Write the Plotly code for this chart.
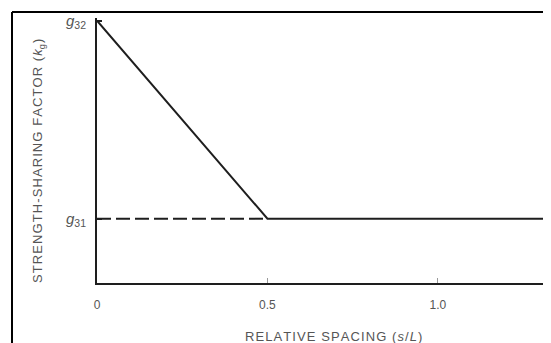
import plotly.graph_objects as go

# Data (normalised: g32 = 1.0, g31)
g32 = 1.0
g31 = 0.245
solid_x = [0.0, 0.5, 1.32]
solid_y = [g32, g31, g31]
dash_x = [0.0, 0.5]
dash_y = [g31, g31]
x_tick_vals = [0, 0.5, 1.0]
x_tick_text = ["0", "0.5", "1.0"]
y_tick_vals = [g31, g32]
y_tick_text = ["<i>g</i><sub>31</sub>", "<i>g</i><sub>32</sub>"]
x_title = ["R", "E", "L", "A", "T", "I", "V", "E", " ", "S", "P", "A", "C", "I", "N", "G", " ",
           "(", "<i>s</i>", "/", "<i>L</i>", ")"]
y_title = ["S", "T", "R", "E", "N", "G", "T", "H", "-", "S", "H", "A", "R", "I", "N", "G", " ",
           "F", "A", "C", "T", "O", "R", " ", "(", "<i>k</i><sub>g</sub>", ")"]

SP = "\u200a"
FONT = "Liberation Sans, Arial, sans-serif"
GREY = "#555555"
DARK = "#1e1e1e"

fig = go.Figure()
fig.add_trace(go.Scatter(x=dash_x, y=dash_y, mode="lines",
                         line=dict(color=DARK, width=2, dash="14px,5px"),
                         hoverinfo="skip", showlegend=False))
fig.add_trace(go.Scatter(x=solid_x, y=solid_y, mode="lines",
                         line=dict(color=DARK, width=2),
                         hoverinfo="skip", showlegend=False))

# page body has an 8px default margin: figure is shrunk by 8px to fit the window
fig.update_layout(
    width=543, height=335,
    margin=dict(l=89, r=4, t=8, b=60),
    paper_bgcolor="white", plot_bgcolor="white",
    font=dict(family=FONT, color=GREY, size=12),
    showlegend=False,
    xaxis=dict(range=[0, 1.32], tickvals=x_tick_vals, ticktext=x_tick_text,
               showgrid=False, zeroline=False, showline=True, linecolor=DARK,
               linewidth=2, ticks="inside", ticklen=5, tickcolor="#999999",
               tickwidth=1, ticklabelstandoff=10,
               tickfont=dict(size=12, color=GREY)),
    yaxis=dict(range=[0, 1.01], tickvals=y_tick_vals, ticktext=y_tick_text,
               showgrid=False, zeroline=False, showline=True, linecolor=DARK,
               linewidth=2, ticks="inside", ticklen=5, tickcolor=DARK,
               tickwidth=1.5, ticklabelstandoff=6,
               tickfont=dict(size=15, color=GREY)),
)

fig.add_annotation(text=SP.join(x_title),
                   xref="paper", yref="paper", x=(333 - 97) / 450, y=-(337 - 283) / 267,
                   showarrow=False, xanchor="center", yanchor="middle",
                   font=dict(size=13, color=GREY, family=FONT))
fig.add_annotation(text=SP.join(y_title),
                   xref="paper", yref="paper", x=(39 - 97) / 450, y=(283 - 160) / 267,
                   showarrow=False, xanchor="center", yanchor="middle", textangle=-90,
                   font=dict(size=13, color=GREY, family=FONT))

# outer frame (top and left edges visible)
fig.add_shape(type="line", xref="paper", yref="paper",
              x0=(12 - 97) / 450, x1=1.2, y0=1 + 6 / 267, y1=1 + 6 / 267,
              line=dict(color="black", width=2))
fig.add_shape(type="line", xref="paper", yref="paper",
              x0=(12 - 97) / 450, x1=(12 - 97) / 450, y0=1 + 6 / 267, y1=-0.5,
              line=dict(color="black", width=2))

fig.write_html("out.html")
